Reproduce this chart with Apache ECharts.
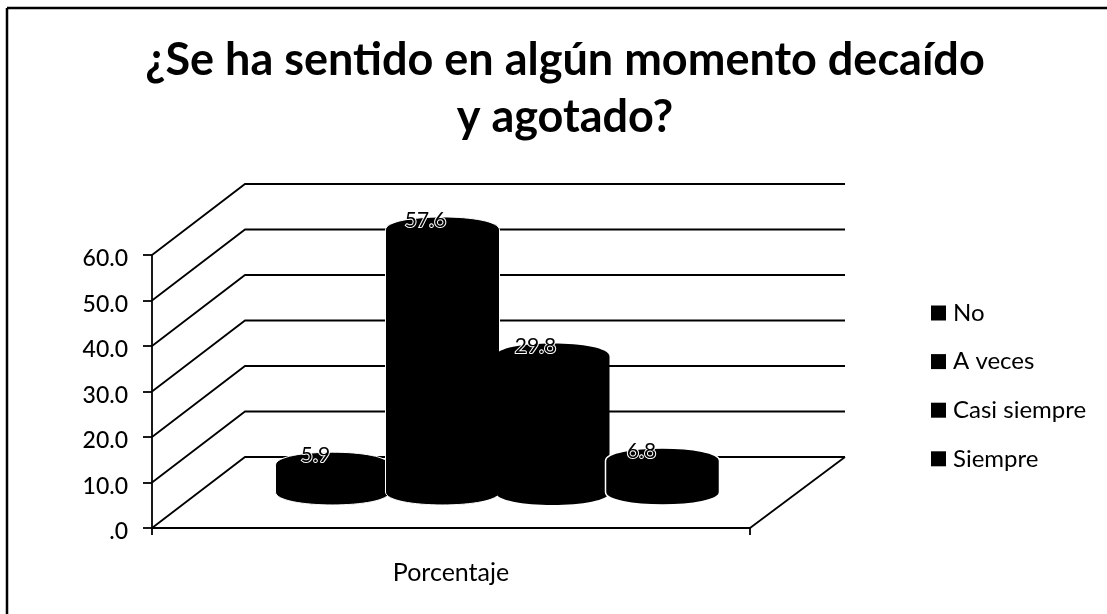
<!DOCTYPE html>
<html><head><meta charset="utf-8">
<style>html,body{margin:0;padding:0;background:#fff}#c{width:1107px;height:614px}</style>
<script src="https://cdn.jsdelivr.net/npm/echarts@6/dist/echarts.min.js"></script>
</head><body><div id="c"></div>
<script>
const titleText = "¿Se ha sentido en algún momento decaído\ny agotado?";
const categories = ["Porcentaje"];
const seriesNames = ["No", "A veces", "Casi siempre", "Siempre"];
const seriesValues = [5.9, 57.6, 29.8, 6.8];
const wallTicks = [0, 10, 20, 30, 40, 50, 60];
const FONT = "Lato";
const DX = 93, DY = -71, BACK_W = 600;
const MID_X = 46.5, MID_Y = -36, STEP = 110, RX = 57, RY = 13;
const LABEL_SHIFT = [-17, -17, -17, -21];
const EDGE = [1, 1, 0, 1.5];

const chart = echarts.init(document.getElementById('c'), null, {renderer:'canvas'});

function chartHalf(api){ return api.size([1,0])[0]/2; }
function wallRender(params, api){
  const p = api.coord([0, api.value(0)]);
  const x0 = p[0] - chartHalf(api);
  const shape = {points:[[x0,p[1]],[x0+DX,p[1]+DY],[x0+DX+BACK_W,p[1]+DY]]};
  return {type:'polyline', shape, silent:true, style:{stroke:'#000',lineWidth:1.8,fill:null}};
}
function floorRender(params, api){
  const p = api.coord([0, 0]);
  const h = chartHalf(api);
  return {type:'line', silent:true, shape:{x1:p[0]+h,y1:p[1],x2:p[0]+h+DX+2,y2:p[1]+DY},
    style:{stroke:'#000',lineWidth:1.8}};
}
function cylRender(idx){
  return function(params, api){
    const top = api.coord([0, api.value(0)]);
    const bot = api.coord([0, 0]);
    const cx = top[0] + MID_X + (idx-1.5)*STEP;
    const ty = top[1] + MID_Y, by = bot[1] + MID_Y;
    const path = `M${cx-RX} ${ty}C${cx-RX} ${ty-RY*1.33} ${cx+RX} ${ty-RY*1.33} ${cx+RX} ${ty}`+
      `L${cx+RX} ${by}C${cx+RX} ${by+RY*1.33} ${cx-RX} ${by+RY*1.33} ${cx-RX} ${by}Z`;
    return {type:'group', children:[
      {type:'path', shape:{pathData:path}, style:{fill:'#000',stroke:EDGE[idx]?'#fff':null,lineWidth:EDGE[idx]}},
      {type:'text', z2:10, style:{text:api.value(0).toFixed(1), x:cx+LABEL_SHIFT[idx], y:ty-10,
        align:'center', verticalAlign:'middle', font:`21px ${FONT}`, fill:'#000',
        stroke:'#fff', lineWidth:2}}
    ]};
  };
}
const series = [
  {type:'custom', name:'_walls', coordinateSystem:'cartesian2d', renderItem:wallRender,
   data:wallTicks.map(v=>[v]), encode:{y:0}, z:1, silent:true, tooltip:{show:false}},
  {type:'custom', name:'_floor', coordinateSystem:'cartesian2d', renderItem:floorRender,
   data:[[0]], encode:{y:0}, z:1, silent:true}
];
seriesNames.forEach((n,i)=>series.push({
  type:'custom', name:n, coordinateSystem:'cartesian2d', renderItem:cylRender(i),
  data:[[seriesValues[i]]], encode:{y:0}, itemStyle:{color:'#000'}, z:3+i
}));

chart.setOption({
  animation:false,
  backgroundColor:'#fff',
  title:{text:titleText, left:560, top:27, textAlign:'center',
    textStyle:{fontFamily:FONT,fontWeight:'bold',fontSize:45,lineHeight:57,color:'#000',align:'center'}},
  legend:{data:seriesNames, orient:'vertical', left:931, top:301, padding:0, itemWidth:15, itemHeight:15,
    itemGap:24.6, icon:'rect', textStyle:{fontFamily:FONT,fontSize:24,color:'#000',padding:[0,0,0,2]}},
  grid:{left:152, top:255, width:598, height:273, containLabel:false},
  xAxis:{type:'category', data:categories, axisLine:{lineStyle:{color:'#000',width:1.8}},
    axisTick:{show:true,length:7,lineStyle:{color:'#000',width:1.8}},
    axisLabel:{color:'#000',fontFamily:FONT,fontSize:25,margin:32}},
  yAxis:{type:'value', min:0, max:60, interval:10,
    splitLine:{show:false},
    axisLine:{show:true,lineStyle:{color:'#000',width:1.8}},
    axisTick:{show:true,length:9,lineStyle:{color:'#000',width:1.8}},
    axisLabel:{margin:24,
      formatter:v=> '{t|' + (v===0 ? '.0' : v.toFixed(1)) + '}',
      rich:{t:{color:'#000',fontFamily:FONT,fontSize:23,fontWeight:500,padding:[8,0,0,0]}}}},
  graphic:[
    {type:'line', shape:{x1:7,y1:8,x2:1107,y2:8}, silent:true, style:{stroke:'#000',lineWidth:2.5}},
    {type:'line', shape:{x1:7,y1:8,x2:7,y2:614}, silent:true, style:{stroke:'#000',lineWidth:2.5}}
  ],
  series
});
</script></body></html>
